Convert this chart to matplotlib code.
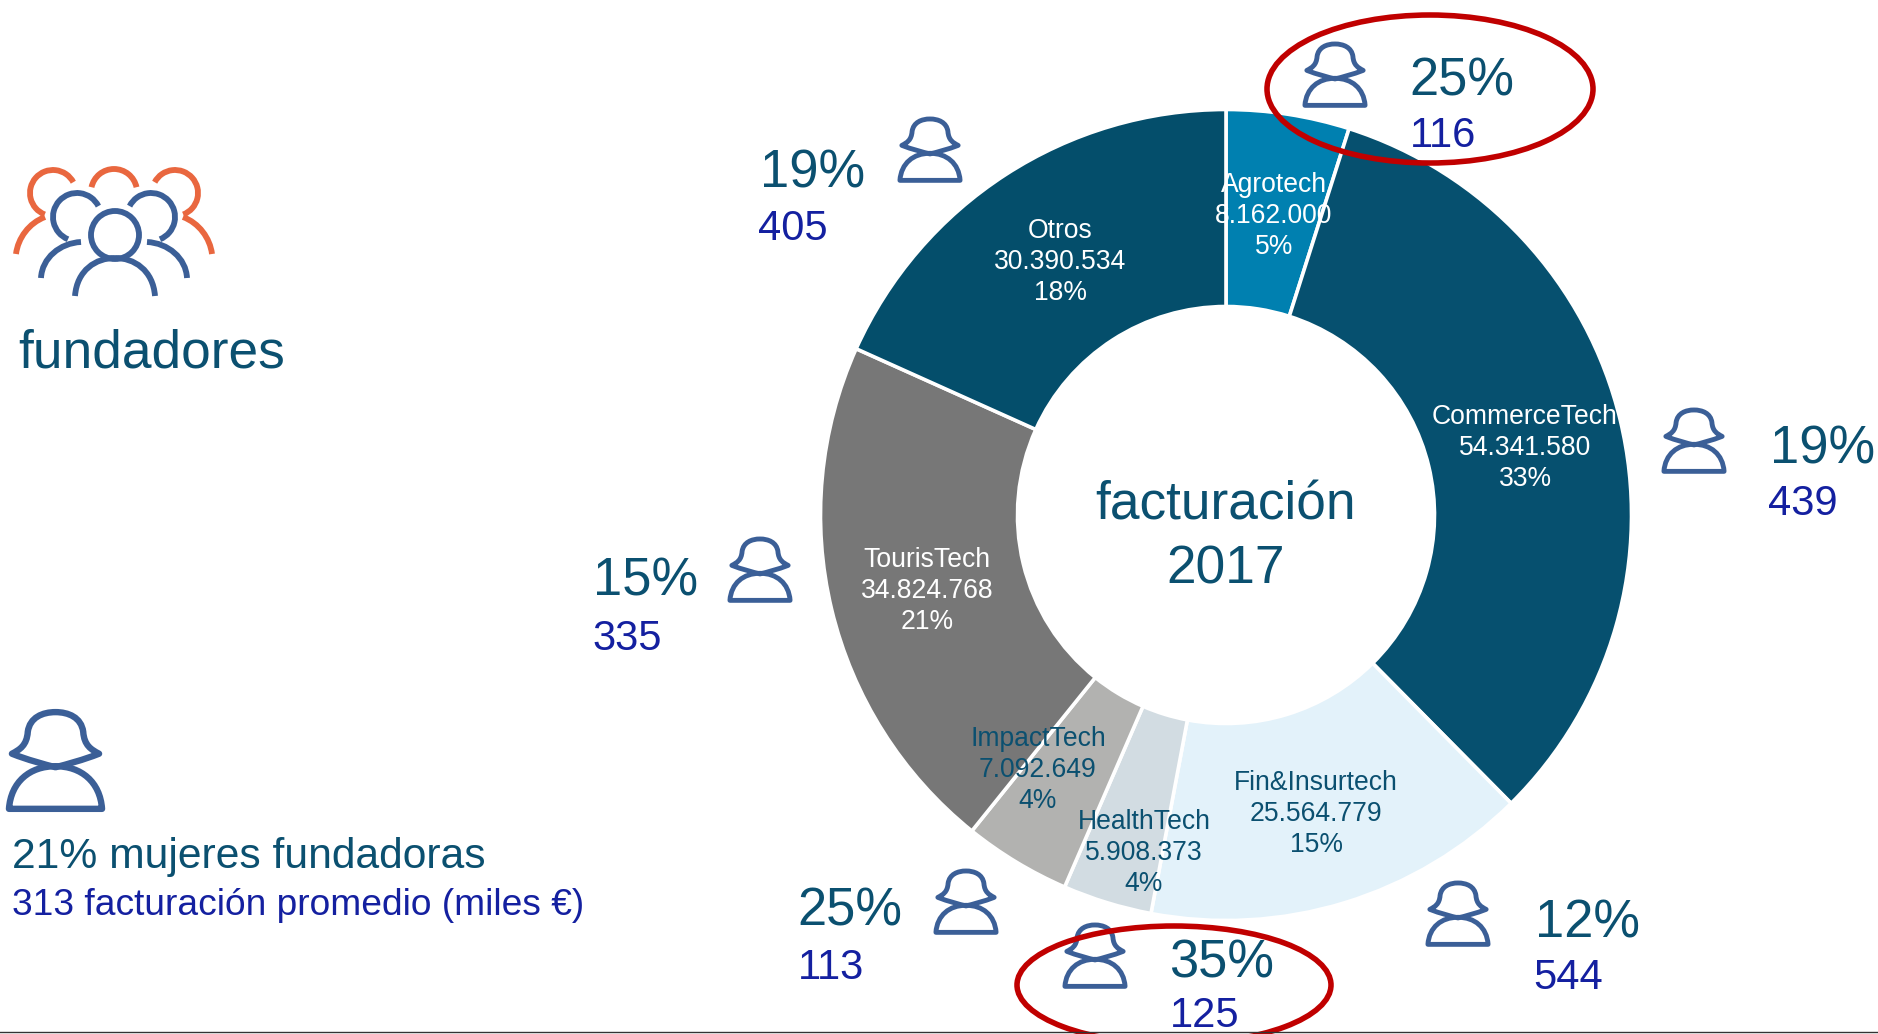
import matplotlib
matplotlib.use('Agg')
import matplotlib.pyplot as plt
from matplotlib.patches import Arc, Ellipse, PathPatch
from matplotlib.path import Path

W, H = 1878, 1034

sectors = ['Agrotech', 'CommerceTech', 'Fin&Insurtech', 'HealthTech', 'ImpactTech', 'TourisTech', 'Otros']
revenue = [8162000, 54341580, 25564779, 5908373, 7092649, 34824768, 30390534]
revenue_text = ['8.162.000', '54.341.580', '25.564.779', '5.908.373', '7.092.649', '34.824.768', '30.390.534']
share_text = ['5%', '33%', '15%', '4%', '4%', '21%', '18%']
women_pct = ['25%', '19%', '12%', '35%', '25%', '15%', '19%']
women_rev = ['116', '439', '544', '125', '113', '335', '405']

slice_colors = ['#0080b0', '#06506f', '#e3f2fa', '#d2dce2', '#b2b2b0', '#777777', '#044e6b']
label_colors = ['white', 'white', '#0b5070', '#0b5070', '#0b5070', 'white', 'white']
TEAL = '#0b5070'
BLUE = '#1420a0'
ICON = '#3b5f97'
ORANGE = '#e9673f'
RED = '#c00000'

plt.rcParams['font.family'] = ['Liberation Sans', 'DejaVu Sans']

fig = plt.figure(figsize=(W / 100, H / 100), dpi=100)
ax = fig.add_axes([0, 0, 1, 1])


def Y(y):
    # picture pixels run downwards, the axes upwards
    return H - y


def curve(points, color, lw, close=False):
    # first point is a move, then groups of three bezier points
    codes = [Path.MOVETO] + [Path.CURVE4] * (len(points) - 1)
    pts = [(x, Y(y)) for x, y in points]
    if close:
        pts.append(pts[0])
        codes.append(Path.CLOSEPOLY)
    ax.add_patch(PathPatch(Path(pts, codes), fill=False, edgecolor=color, lw=lw,
                           capstyle='butt', joinstyle='round', zorder=4))


def arc(cx, cy, r, t1, t2, color, lw):
    ax.add_patch(Arc((cx, Y(cy)), 2 * r, 2 * r, theta1=t1, theta2=t2, edgecolor=color, lw=lw, zorder=4))


def woman(x0, y0, x1, y1, lw=3.5):
    # icon of a woman inside the box x0..x1, y0..y1
    def p(u, v):
        return (x0 + u * (x1 - x0), y0 + v * (y1 - y0))
    head = [(0.06, 0.43), (0.14, 0.39), (0.21, 0.35), (0.22, 0.22),
            (0.24, 0.08), (0.37, 0.03), (0.50, 0.03),
            (0.63, 0.03), (0.76, 0.08), (0.78, 0.22),
            (0.79, 0.35), (0.86, 0.39), (0.94, 0.43),
            (0.78, 0.49), (0.62, 0.53), (0.50, 0.56),
            (0.38, 0.53), (0.22, 0.49), (0.06, 0.43)]
    body = [(0.03, 0.96), (0.05, 0.70), (0.24, 0.55), (0.50, 0.55),
            (0.76, 0.55), (0.95, 0.70), (0.97, 0.96),
            (0.66, 0.96), (0.34, 0.96), (0.03, 0.96)]
    curve([p(u, v) for u, v in head], ICON, lw, close=True)
    curve([p(u, v) for u, v in body], ICON, lw, close=True)


def group_side(sign):
    # one side of the group icon, mirrored around the middle at x=114
    def m(x):
        return 114 + sign * (x - 114)

    def angles(t1, t2):
        return (t1, t2) if sign == 1 else (180 - t2, 180 - t1)
    arc(m(53), 193, 23, *angles(28, 249), ORANGE, 4.2)
    curve([(m(45), 217), (m(29), 223), (m(18), 238), (m(16), 254)], ORANGE, 4.2)
    arc(m(77), 217, 24, *angles(27, 248), ICON, 4.2)
    curve([(m(81), 242), (m(60), 243), (m(42), 258), (m(41), 278)], ICON, 4.2)


# donut, same start and direction as the original
ax.pie(revenue, colors=slice_colors, startangle=90, counterclock=False,
       center=(1226, Y(515)), radius=405.5,
       wedgeprops=dict(width=197, edgecolor='white', linewidth=2.6))

ax.set_xlim(0, W)
ax.set_ylim(0, H)
ax.set_aspect('equal')
ax.axis('off')

label_xy = [(1274, 216), (1525, 448), (1316, 814), (1144, 853), (1038, 770), (927, 591), (1060, 262)]
for name, val, share, col, (x, y) in zip(sectors, revenue_text, share_text, label_colors, label_xy):
    ax.text(x, Y(y), name + '\n' + val + '\n' + share, color=col, fontsize=19.1, ha='center',
            va='center', linespacing=1.25, zorder=5)

ax.text(1226, Y(506), 'facturación', color=TEAL, fontsize=38.3, ha='center', va='center', zorder=5)
ax.text(1226, Y(570), '2017', color=TEAL, fontsize=38.3, ha='center', va='center', zorder=5)

# big percent and revenue next to each slice
pct_xy = [(1409, 96), (1770, 463), (1535, 937), (1169, 977), (797, 926), (593, 596), (760, 188)]
rev_xy = [(1410, 147), (1768, 515), (1533, 989), (1170, 1027), (798, 979), (592, 650), (758, 240)]
icon_box = [(1303, 42), (1662, 408), (1426, 881), (1063, 923), (934, 869), (728, 537), (898, 117)]
for pct, rev, pp, rp, box in zip(women_pct, women_rev, pct_xy, rev_xy, icon_box):
    ax.text(pp[0], Y(pp[1]), pct, color=TEAL, fontsize=37.8, ha='left', va='baseline', zorder=5)
    ax.text(rp[0], Y(rp[1]), rev, color=BLUE, fontsize=30, ha='left', va='baseline', zorder=5)
    woman(box[0], box[1], box[0] + 64, box[1] + 66)

# red marks on the two highlighted sectors
ax.add_patch(Ellipse((1430, Y(89)), 326, 148, fill=False, edgecolor=RED, lw=4, zorder=6))
ax.add_patch(Ellipse((1174, Y(985)), 314, 118, fill=False, edgecolor=RED, lw=4, zorder=6))

# left column
group_side(1)
group_side(-1)
arc(114, 192, 23, 12, 168, ORANGE, 4.2)
ax.add_patch(Ellipse((115, Y(235)), 48, 48, fill=False, edgecolor=ICON, lw=4.2, zorder=4))
curve([(75, 296), (77, 270), (96, 258), (115, 258)], ICON, 4.2)
curve([(155, 296), (153, 270), (134, 258), (115, 258)], ICON, 4.2)
ax.text(18, Y(368), 'fundadores', color=TEAL, fontsize=38.3, ha='left', va='baseline')

woman(6, 709, 105, 813, lw=4.6)
ax.text(12, Y(868), '21% mujeres fundadoras', color=TEAL, fontsize=30.7, ha='left', va='baseline')
ax.text(12, Y(915), '313 facturación promedio (miles €)', color=BLUE, fontsize=26.7, ha='left', va='baseline')

# thin rule along the bottom edge
ax.plot([0, W], [Y(1032), Y(1032)], color='#333333', lw=1, zorder=7)

fig.savefig('out.png', dpi=100, facecolor='white')
